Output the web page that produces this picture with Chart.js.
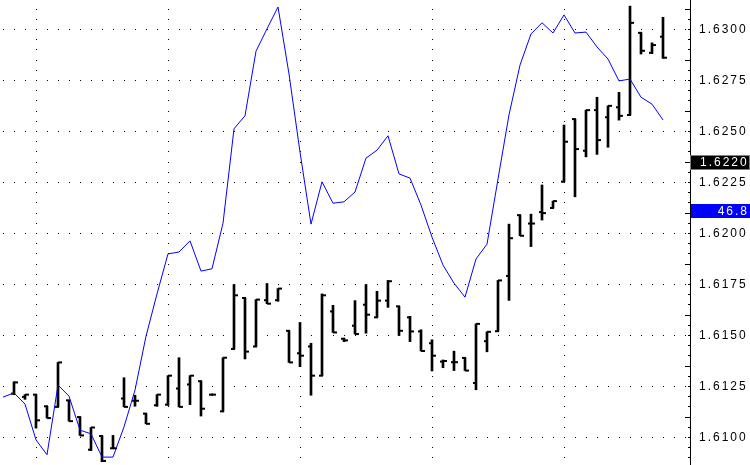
<!DOCTYPE html>
<html><head><meta charset="utf-8">
<script src="https://cdn.jsdelivr.net/npm/chart.js@4.4.0/dist/chart.umd.min.js"></script>
<style>html,body{margin:0;padding:0;background:#fff;overflow:hidden}#wrap{width:750px;height:465px}</style>
</head><body><div id="wrap"><canvas id="c" width="750" height="465"></canvas></div>
<script>
// ---- data ----
const barIndex = [0,1,2,3,4,5,6,7,8,9,10,11,12,13,14,15,16,17,18,19,20,21,22,23,24,25,26,27,28,29,30,31,32,33,34,35,36,37,38,39,40,41,42,43,44,45,46,47,48,49,50,51,52,53,54,55,56,57,58,59];
const opens  = [1.61215,1.61199,1.61210,1.61153,1.61150,1.61182,1.61100,1.60940,1.61007,1.60947,1.61191,1.61180,1.61117,1.61158,1.61161,1.61240,1.61260,1.61276,1.61210,1.61128,1.61434,1.61684,1.61446,1.61673,1.61673,1.61523,1.61413,1.61446,1.61303,1.61618,1.61484,1.61548,1.61651,1.61589,1.61671,1.61643,1.61589,1.61520,1.61462,1.61372,1.61369,1.61390,1.61267,1.61472,1.61521,1.61792,1.62090,1.62049,1.62105,1.62125,1.62254,1.62561,1.62406,1.62605,1.62570,1.62619,1.62581,1.62984,1.62886,1.62965];
const highs  = [1.61273,1.61210,1.61210,1.61153,1.61368,1.61182,1.61100,1.61049,1.61007,1.61010,1.61293,1.61207,1.61117,1.61210,1.61303,1.61391,1.61303,1.61276,1.61213,1.61391,1.61750,1.61684,1.61676,1.61755,1.61730,1.61523,1.61564,1.61462,1.61704,1.61648,1.61487,1.61671,1.61750,1.61717,1.61770,1.61643,1.61594,1.61528,1.61479,1.61380,1.61423,1.61390,1.61557,1.61518,1.61770,1.62046,1.62090,1.62095,1.62238,1.62159,1.62532,1.62561,1.62605,1.62668,1.62626,1.62692,1.63115,1.62984,1.62935,1.63060];
const lows   = [1.61210,1.61187,1.61046,1.61095,1.61150,1.61080,1.61010,1.60936,1.60881,1.60947,1.61150,1.61153,1.61067,1.61153,1.61158,1.61150,1.61161,1.61105,1.61207,1.61128,1.61434,1.61385,1.61446,1.61656,1.61668,1.61368,1.61347,1.61207,1.61303,1.61515,1.61470,1.61507,1.61511,1.61589,1.61638,1.61500,1.61470,1.61424,1.61326,1.61342,1.61328,1.61328,1.61234,1.61420,1.61521,1.61672,1.61989,1.61936,1.62066,1.62125,1.62254,1.62180,1.62376,1.62388,1.62423,1.62556,1.62581,1.62880,1.62883,1.62859];
const closes = [1.61270,1.61210,1.61084,1.61095,1.61368,1.61080,1.61010,1.61049,1.60885,1.60947,1.61150,1.61180,1.61067,1.61210,1.61303,1.61150,1.61303,1.61141,1.61210,1.61391,1.61697,1.61421,1.61676,1.61656,1.61730,1.61368,1.61401,1.61303,1.61697,1.61515,1.61476,1.61507,1.61602,1.61671,1.61766,1.61523,1.61520,1.61424,1.61401,1.61375,1.61369,1.61328,1.61557,1.61518,1.61770,1.61977,1.61989,1.62049,1.62100,1.62159,1.62450,1.62414,1.62605,1.62458,1.62626,1.62577,1.63033,1.62896,1.62924,1.62862];
const indicatorIndex  = [-1,0,1,2,3,4,5,6,7,8,9,10,11,12,13,14,15,16,17,18,19,20,21,22,23,24,25,26,27,28,29,30,31,32,33,34,35,36,37,38,39,40,41,42,43,44,45,46,47,48,49,50,51,52,53,54,55,56,57,58,59];
const indicatorValues = [14.6,15.5,13.1,5.4,2.2,17.2,14.8,7.5,6.7,1.7,1.7,8.2,16.1,27.7,36.8,45.4,45.8,48.2,41.7,42.2,52.0,72.3,75.1,89.0,93.8,98.5,84.1,67.3,51.8,60.9,56.3,56.6,58.7,66.0,67.7,70.8,62.6,61.7,55.9,49.0,43.0,39.1,36.1,44.3,47.5,61.5,75.3,86.0,92.7,95.1,92.9,96.8,92.9,93.1,89.9,87.3,82.6,83.0,79.1,77.6,74.2];
const priceTicks = [1.6100,1.6125,1.6150,1.6175,1.6200,1.6225,1.6250,1.6275,1.6300];
const gridBars = [2,14,26,38,50];
const priceLabel = '1.6220';
const indicatorLabel = '46.8';

// ---- layout constants ----
const PRICE_MIN = 1.60865, PRICE_MAX = 1.63145, MINOR_STEP = 0.0005;
const X_MIN = -14/11, X_MAX = 676/11;
const FONT = '12px "Liberation Sans", Arial, sans-serif';

const deco = {
  id: 'deco',
  beforeDraw(chart) { chart.ctx.letterSpacing = '2px'; },
  beforeDatasetsDraw(chart) {
    const {ctx, chartArea: a, scales: {x, y}} = chart;
    ctx.save();
    ctx.fillStyle = '#000';
    priceTicks.forEach(p => {
      const py = Math.round(y.getPixelForValue(p) - 0.5);
      for (let i = -1; i <= 62; i++) {
        const px = Math.round(x.getPixelForValue(i));
        if (px >= a.left && px < a.right) ctx.fillRect(px, py, 1, 1);
      }
    });
    gridBars.forEach(b => {
      const px = Math.round(x.getPixelForValue(b));
      for (let k = 0; k < 60; k++) {
        const v = 1.6085 + k * MINOR_STEP;
        if (v > PRICE_MAX) break;
        const py = Math.round(y.getPixelForValue(v) - 0.5);
        if (py >= a.top && py < a.bottom) ctx.fillRect(px, py, 1, 1);
      }
    });
    ctx.restore();
  },
  afterDraw(chart) {
    const {ctx, chartArea: a, scales: {y}} = chart;
    ctx.save();
    ctx.fillStyle = '#000';
    for (let k = 0; k < 60; k++) {
      const v = 1.6085 + k * MINOR_STEP;
      if (v > PRICE_MAX) break;
      const py = Math.round(y.getPixelForValue(v) - 0.5);
      const major = k % 5 === 0;
      const len = major ? 5 : 2;
      ctx.fillRect(a.right - len, py, len, 1);
    }
    // value boxes
    ctx.letterSpacing = '2px';
    ctx.font = FONT;
    ctx.textBaseline = 'middle';
    ctx.fillStyle = '#808080';
    ctx.fillRect(690, 155, 60, 15);
    ctx.fillStyle = '#000';
    ctx.fillRect(691, 156, 58, 13);
    ctx.fillStyle = '#fff';
    ctx.textAlign = 'left';
    ctx.fillText(priceLabel, 700, 163);
    ctx.fillStyle = '#0000ff';
    ctx.fillRect(691, 204, 59, 14);
    ctx.fillStyle = '#fff';
    ctx.textAlign = 'right';
    ctx.fillText(indicatorLabel, 749, 211.5);
    ctx.restore();
  }
};

new Chart(document.getElementById('c'), {
  type: 'line',
  data: {
    datasets: [
      { type: 'bar', data: barIndex.map((b, i) => ({x: b, y: [lows[i], highs[i]]})),
        backgroundColor: '#000', borderWidth: 0, barThickness: 2, yAxisID: 'y', order: 3 },
      { type: 'line', data: barIndex.map((b, i) => ({x: b - 1/11, y: opens[i]})), showLine: false,
        pointStyle: 'line', pointRadius: 2, pointHoverRadius: 0, pointBorderWidth: 2, pointBorderColor: '#000', borderColor: '#000', yAxisID: 'y', order: 2 },
      { type: 'line', data: barIndex.map((b, i) => ({x: b + 2/11, y: closes[i]})), showLine: false,
        pointStyle: 'line', pointRadius: 2, pointHoverRadius: 0, pointBorderWidth: 2, pointBorderColor: '#000', borderColor: '#000', yAxisID: 'y', order: 1 },
      { type: 'line', data: indicatorIndex.map((b, i) => ({x: b, y: indicatorValues[i]})),
        borderColor: '#0000ff', borderWidth: 1, pointRadius: 0, pointHoverRadius: 0, tension: 0, yAxisID: 'y2', order: 0 }
    ]
  },
  options: {
    responsive: false, animation: false, devicePixelRatio: 1, events: [],
    layout: {padding: 0, autoPadding: false},
    plugins: {legend: {display: false}, tooltip: {enabled: false}},
    scales: {
      x: {type: 'linear', display: false, min: X_MIN, max: X_MAX, offset: false},
      y: {type: 'linear', position: 'right', min: PRICE_MIN, max: PRICE_MAX,
        afterFit: s => { s.width = 60; s.paddingTop = 0; s.paddingBottom = 0; },
        afterBuildTicks: s => { s.ticks = priceTicks.map(v => ({value: v})); },
        ticks: {callback: v => v.toFixed(4), color: '#000', padding: 9,
          font: {family: '"Liberation Sans", Arial, sans-serif', size: 12}},
        grid: {display: false, drawTicks: false},
        border: {display: true, color: '#000', width: 1}},
      y2: {type: 'linear', display: false, min: 0, max: 100}
    }
  },
  plugins: [deco]
});
</script>
</body></html>
